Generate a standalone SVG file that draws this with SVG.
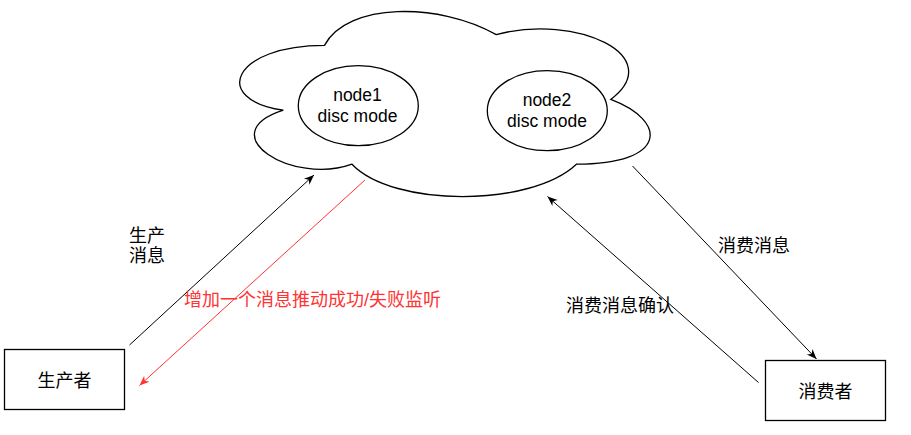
<svg xmlns="http://www.w3.org/2000/svg" width="911" height="435" viewBox="0 0 911 435">
<style>
.shape{fill:#fff;stroke:#000;stroke-width:1.3}
.lat{font-family:"Liberation Sans",Arial,sans-serif;font-size:17.5px;fill:#000;text-anchor:middle}
.cjk{font-family:"Liberation Sans","Noto Sans CJK SC",sans-serif;font-size:18px;fill:#000}
.mid{text-anchor:middle}
.edge{fill:none;stroke:#000;stroke-width:1}
.red{stroke:#FF3333}
</style>
<defs>
<marker id="ab" markerUnits="userSpaceOnUse" markerWidth="11" markerHeight="9" refX="10" refY="4" orient="auto" overflow="visible">
<path d="M0,0 L10,4 L0,8 L3,4 Z" fill="#000"/>
</marker>
<marker id="ar" markerUnits="userSpaceOnUse" markerWidth="11" markerHeight="9" refX="10" refY="4" orient="auto" overflow="visible">
<path d="M0,0 L10,4 L0,8 L3,4 Z" fill="#FF3333"/>
</marker>
</defs>
<rect width="911" height="435" fill="#fff"/>
<g id="cloud">
<path class="shape" d="M324.5,45.4 C232.9,45.4 210,99.4 283.3,110.2 C210,134 292.4,185.8 352,164.2 C393.2,207.4 530.6,207.4 576.4,164.2 C668,164.2 668,121 610.75,99.4 C668,56.2 576.4,13 496.25,34.6 C439,2.2 347.4,2.2 324.5,45.4 Z"/>
</g>
<g id="node1">
<ellipse class="shape" cx="358.3" cy="105.7" rx="60" ry="40"/>
<text class="lat" x="357.5" y="101">node1</text>
<text class="lat" x="357.5" y="121.7">disc mode</text>
</g>
<g id="node2">
<ellipse class="shape" cx="547.3" cy="110.7" rx="60" ry="40"/>
<text class="lat" x="547" y="106">node2</text>
<text class="lat" x="547" y="126.7">disc mode</text>
</g>
<g id="producer">
<rect class="shape" x="4.5" y="349.5" width="120" height="60"/>
<text class="cjk mid" x="64.5" y="387">生产者</text>
</g>
<g id="consumer">
<rect class="shape" x="765.5" y="360.5" width="120" height="60"/>
<text class="cjk mid" x="825.5" y="398">消费者</text>
</g>
<g id="connectors">
<line class="edge" x1="129.5" y1="345" x2="314" y2="175" marker-end="url(#ab)"/>
<line class="edge red" x1="365" y1="180" x2="139.5" y2="385.5" marker-end="url(#ar)"/>
<line class="edge" x1="758.5" y1="382.5" x2="547.5" y2="196.5" marker-end="url(#ab)"/>
<line class="edge" x1="632.5" y1="166" x2="816.5" y2="359" marker-end="url(#ab)"/>
<text class="cjk" x="129" y="242">生产</text>
<text class="cjk" x="129" y="262">消息</text>
<text class="cjk" x="184" y="305.5" fill="#FF3333" style="fill:#FF3333">增加一个消息推动成功/失败监听</text>
<text class="cjk" x="566" y="312">消费消息确认</text>
<text class="cjk" x="718" y="251.5">消费消息</text>
</g>
</svg>
